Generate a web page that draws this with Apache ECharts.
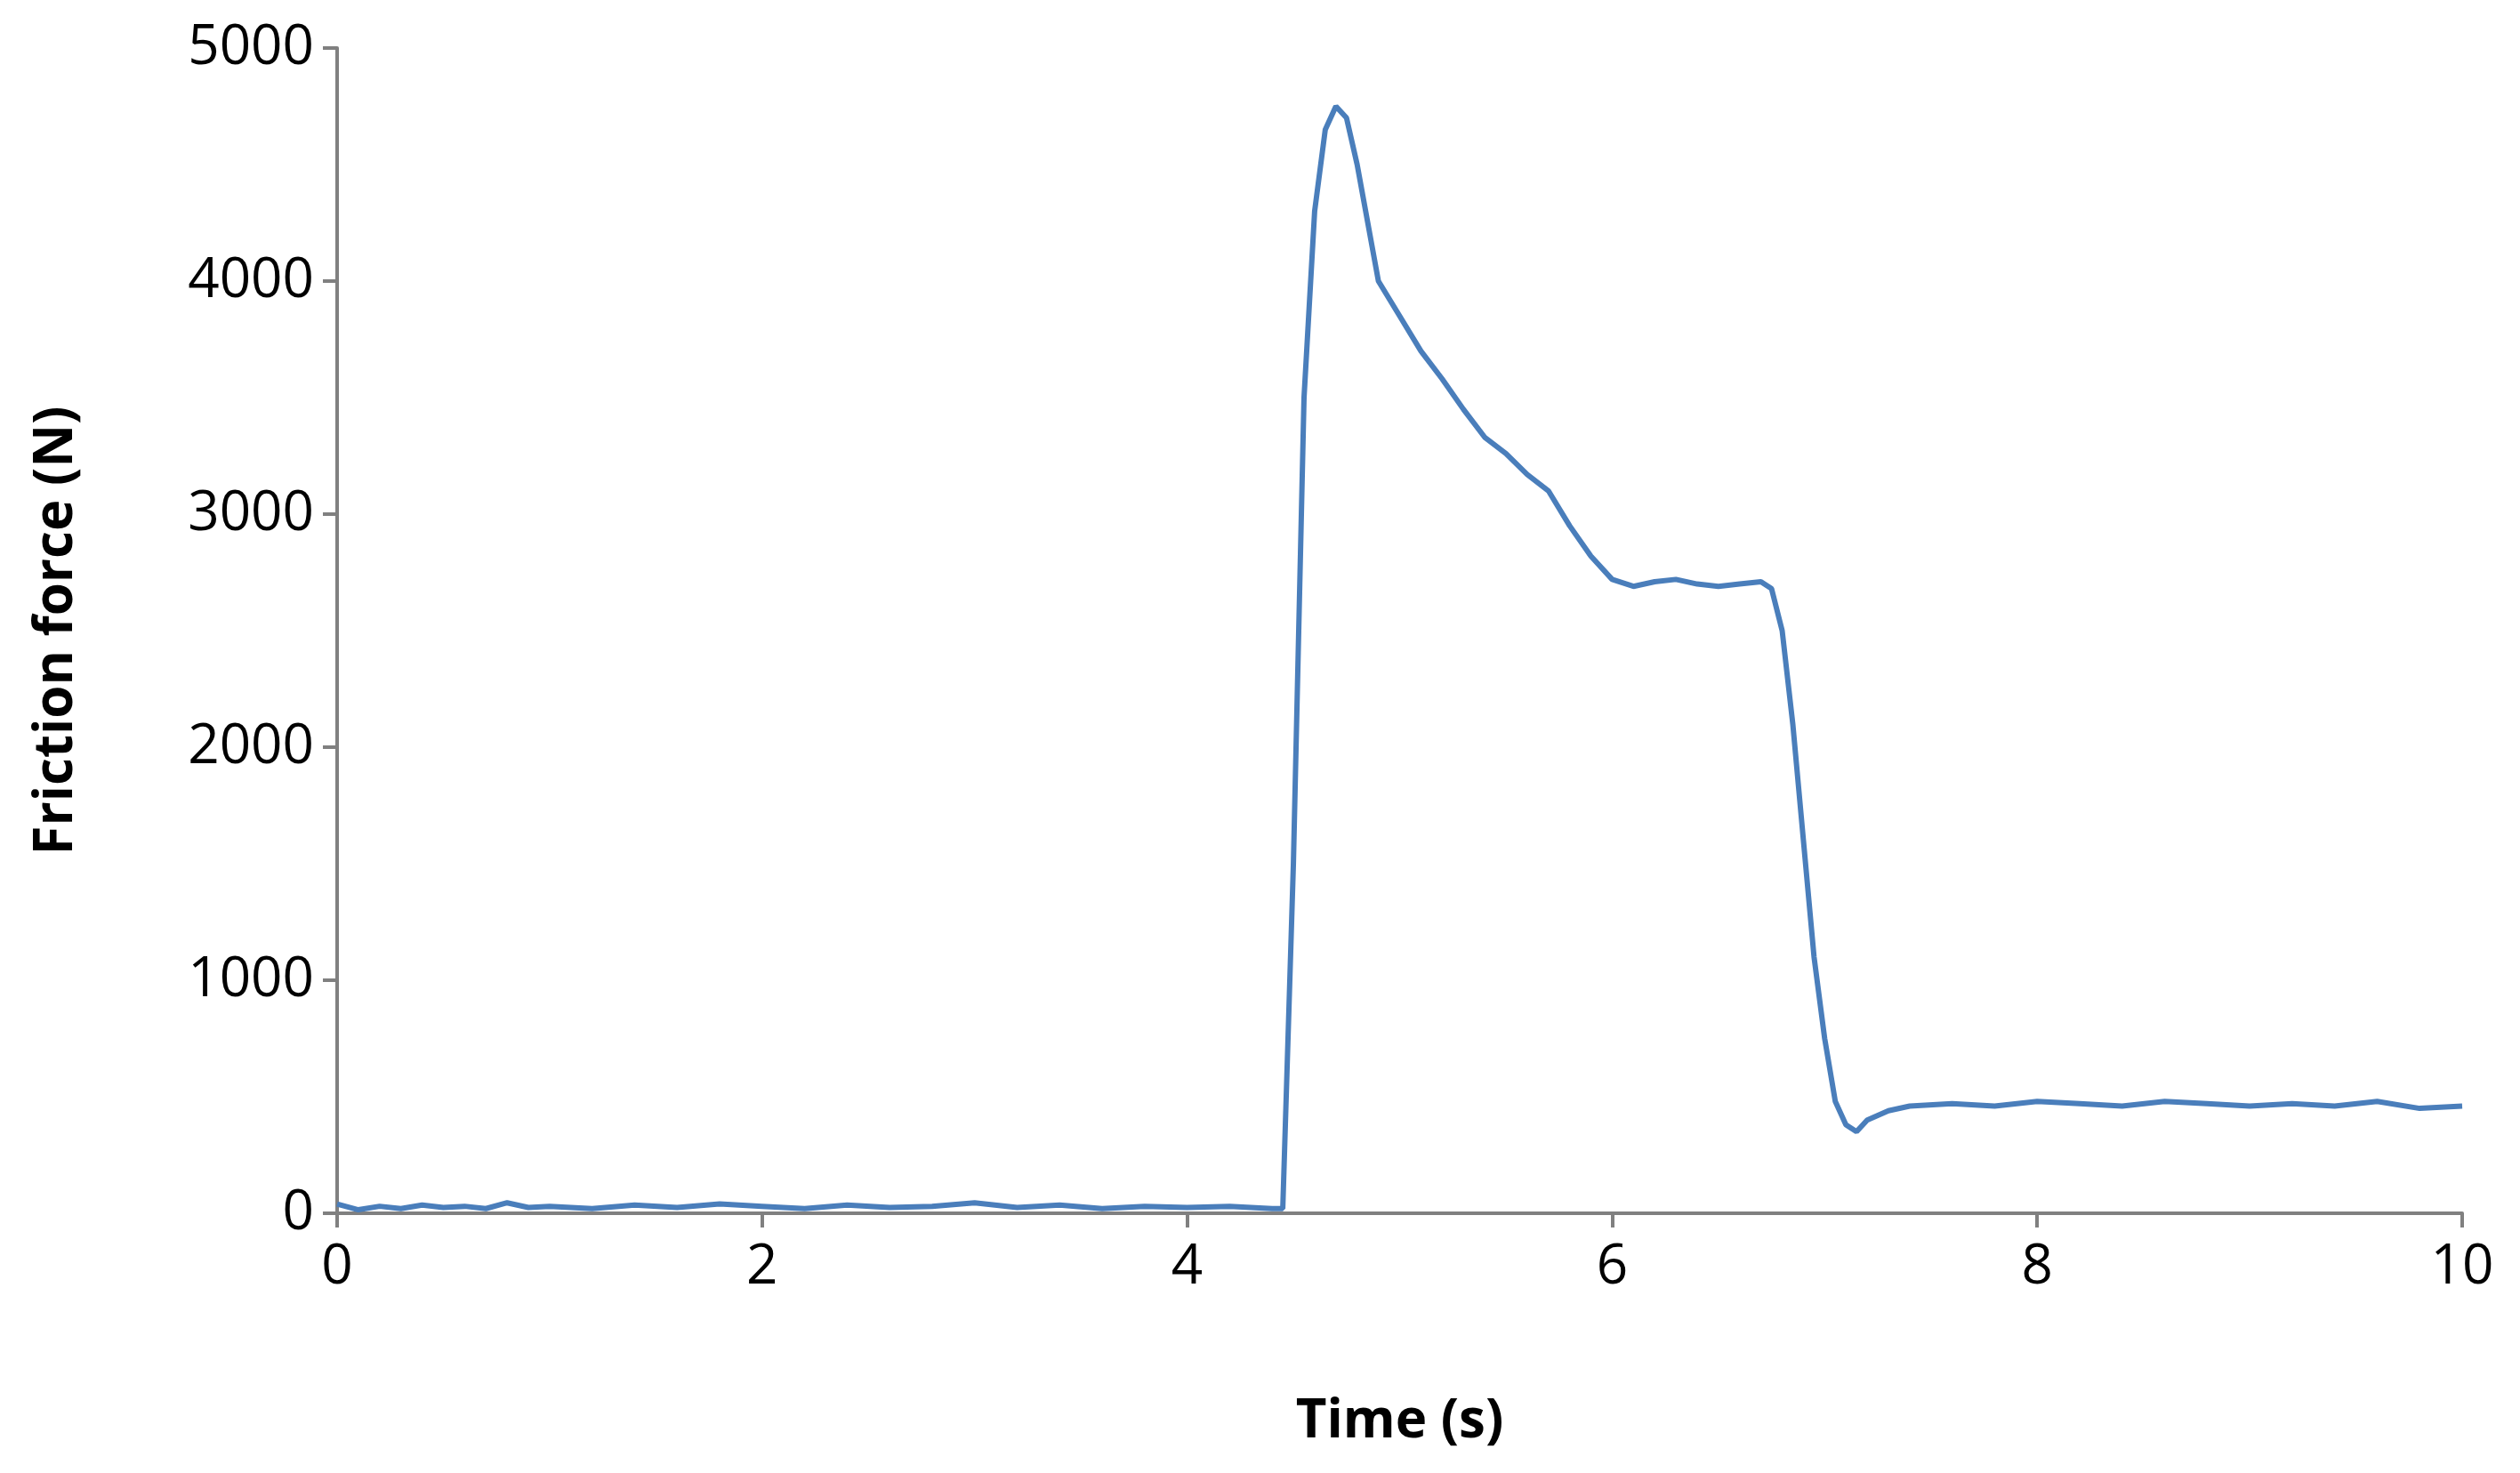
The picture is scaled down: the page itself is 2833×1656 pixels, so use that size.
<!DOCTYPE html>
<html>
<head>
<meta charset="utf-8">
<script src="https://cdn.jsdelivr.net/npm/echarts@6/dist/echarts.min.js"></script>
<style>
  html, body { margin: 0; padding: 0; background: #fff; }
  #chart-container { width: 2833px; height: 1656px; }
</style>
</head>
<body>
<div id="chart-container"></div>
<script>
// time (s)
const times = [
  0, 0.1, 0.2, 0.3, 0.4, 0.5, 0.6, 0.7, 0.8, 0.9, 1.0, 1.2, 1.4, 1.6, 1.8, 2.0,
  2.2, 2.4, 2.6, 2.8, 3.0, 3.2, 3.4, 3.6, 3.8, 4.0, 4.2, 4.4, 4.45, 4.5, 4.55,
  4.6, 4.65, 4.7, 4.75, 4.8, 4.85, 4.9, 5.0, 5.1, 5.2, 5.3, 5.4, 5.5, 5.6, 5.7,
  5.8, 5.9, 6.0, 6.1, 6.2, 6.3, 6.4, 6.5, 6.6, 6.7, 6.75, 6.8, 6.85, 6.9, 6.95,
  7.0, 7.05, 7.1, 7.15, 7.2, 7.3, 7.4, 7.6, 7.8, 8.0, 8.2, 8.4, 8.6, 8.8, 9.0,
  9.2, 9.4, 9.6, 9.8, 10.0,
];
// friction force (N)
const force = [
  40, 15, 30, 20, 35, 25, 30, 20, 45, 25, 30, 20, 35, 25, 40, 30,
  20, 35, 25, 30, 45, 25, 35, 20, 30, 25, 30, 20, 20, 1500, 3500,
  4300, 4650, 4750, 4700, 4500, 4250, 4000, 3850, 3700, 3580, 3450, 3330, 3260, 3170, 3100,
  2950, 2820, 2720, 2690, 2710, 2720, 2700, 2690, 2700, 2710, 2680, 2500, 2100, 1600, 1100,
  750, 480, 380, 350, 400, 440, 460, 470, 460, 480, 470, 460, 480, 470, 460,
  470, 460, 480, 450, 460,
];
const xTicks = [0, 2, 4, 6, 8, 10];
const yTicks = [0, 1000, 2000, 3000, 4000, 5000];

const dom = document.getElementById("chart-container");
const myChart = echarts.init(dom, null, { renderer: "canvas" });

const axisCommon = {
  type: "value",
  nameLocation: "middle",
  nameTextStyle: { fontFamily: "Open Sans", fontWeight: "bold", fontSize: 60, color: "#000" },
  axisLine: { show: true, lineStyle: { color: "#808080", width: 4 } },
  axisTick: { show: true, inside: false, length: 16, lineStyle: { color: "#808080", width: 4 } },
  axisLabel: { fontFamily: "Open Sans", fontSize: 62, color: "#000", formatter: (v) => String(v) },
  splitLine: { show: false },
};

const option = {
  backgroundColor: "#fff",
  animation: false,
  grid: { left: 379, right: 65, top: 54, bottom: 292 },
  xAxis: {
    ...axisCommon,
    name: "Time (s)",
    nameGap: 205,
    min: xTicks[0],
    max: xTicks[xTicks.length - 1],
    interval: 2,
    axisLabel: { ...axisCommon.axisLabel, margin: 30 },
  },
  yAxis: {
    ...axisCommon,
    name: "Friction force (N)",
    nameGap: 285,
    min: yTicks[0],
    max: yTicks[yTicks.length - 1],
    interval: 1000,
    axisLabel: { ...axisCommon.axisLabel, margin: 26 },
  },
  series: [
    {
      type: "line",
      showSymbol: false,
      lineStyle: { color: "#4a7ebb", width: 6 },
      data: times.map((t, i) => [t, force[i]]),
    },
  ],
};

myChart.setOption(option);
window.addEventListener("resize", myChart.resize);
</script>
</body>
</html>
